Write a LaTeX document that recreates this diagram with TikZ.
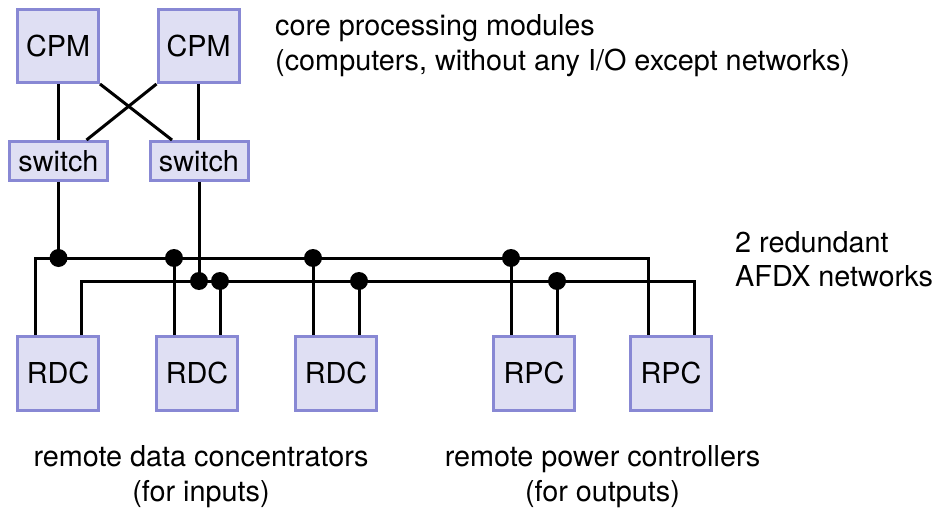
\documentclass[tikz,border=0pt]{standalone}
\usepackage{fontspec}
\setmainfont{TeX Gyre Heros}
\usetikzlibrary{calc}
\definecolor{boxfill}{RGB}{223,223,243}
\definecolor{boxline}{RGB}{136,136,212}
\begin{document}
\begin{tikzpicture}[x=1pt,y=-1pt,
  font=\fontsize{28.8}{35}\selectfont,
  unit/.style={draw=boxline,fill=boxfill,line width=3pt,inner sep=0pt,
               minimum width=81pt,minimum height=74pt},
  sw/.style={unit,minimum width=98pt,minimum height=39pt},
  wire/.style={line width=3pt,line cap=butt},
  tap/.style={fill=black},
  caption/.style={inner sep=0pt}]
\useasboundingbox (0,0) rectangle (938,508);

% core processing modules and their switches
\node[unit,minimum height=73pt] (cpm1) at (58,46) {CPM};
\node[unit,minimum height=73pt] (cpm2) at (198.5,46) {CPM};
\node[sw] (sw1) at (58.5,161) {switch};
\node[sw] (sw2) at (199,161) {switch};

% remote units
\node[unit] (rdc1) at (58,373.5) {RDC};
\node[unit] (rdc2) at (197,373.5) {RDC};
\node[unit] (rdc3) at (336,373.5) {RDC};
\node[unit] (rpc1) at (534,373.5) {RPC};
\node[unit] (rpc2) at (671,373.5) {RPC};

% network bus levels
\coordinate (busA) at (0,258);
\coordinate (busB) at (0,281);

% attachment points on top of each remote unit (net A left, net B right)
\foreach \u in {rdc1,rdc2,rdc3,rpc1,rpc2}{
  \coordinate (\u a) at ($(\u.north)+(-23,0)$);
  \coordinate (\u b) at ($(\u.north)+(23,0)$);
}

% CPM to switch links
\coordinate (sw1in) at ($(sw1.north)+(28,0)$);
\coordinate (sw2in) at ($(sw2.north)+(-27,0)$);
\draw[wire] (cpm1.south) -- (cpm1.south |- sw1.north);
\draw[wire] (cpm2.south) -- (cpm2.south |- sw2.north);
\draw[wire] (cpm1.south east) -- (sw2in);
\draw[wire] (cpm2.south west) -- (sw1in);

% the two AFDX networks
\draw[wire] (rdc1a) |- (rpc2a |- busA) -- (rpc2a);
\draw[wire] (rdc1b) |- (rpc2b |- busB) -- (rpc2b);

% switch uplinks
\draw[wire] (sw1.south) -- (sw1.south |- busA);
\fill[tap] (sw1.south |- busA) circle[radius=9pt];
\draw[wire] (sw2.south) -- (sw2.south |- busB);
\fill[tap] (sw2.south |- busB) circle[radius=9pt];

% taps of the middle units
\foreach \u in {rdc2,rdc3,rpc1}{
  \draw[wire] (\u a) -- (\u a |- busA);
  \fill[tap] (\u a |- busA) circle[radius=9pt];
  \draw[wire] (\u b) -- (\u b |- busB);
  \fill[tap] (\u b |- busB) circle[radius=9pt];
}

% captions (base anchor sits on the last line)
\node[caption,anchor=base west,align=left] (capcpm) at (275,71)
  {core processing modules\\(computers, without any I/O except networks)};
\node[caption,anchor=base west,align=left] (capnet) at (735,287)
  {2 redundant\\AFDX networks};
\node[caption,anchor=base,align=center] (caprdc) at (201,501)
  {remote data concentrators\\(for inputs)};
\node[caption,anchor=base,align=center] (caprpc) at (602.5,501)
  {remote power controllers\\(for outputs)};
\end{tikzpicture}
\end{document}
